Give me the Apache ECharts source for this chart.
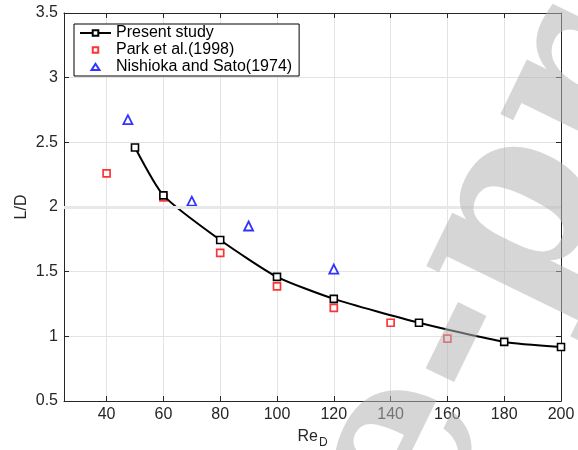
<!DOCTYPE html>
<html><head><meta charset="utf-8">
<script src="https://cdn.jsdelivr.net/npm/echarts@6/dist/echarts.min.js"></script>
<style>html,body{margin:0;padding:0;background:#fff}#c{width:578px;height:450px}</style>
</head><body><div id="c"></div>
<script>
const xTicks = [40, 60, 80, 100, 120, 140, 160, 180, 200];
const yTicks = [0.5, 1, 1.5, 2, 2.5, 3, 3.5];
const presentX = [50, 60, 80, 100, 120, 150, 180, 200];
const presentY = [2.46, 2.09, 1.745, 1.46, 1.29, 1.105, 0.957, 0.918];
const parkX = [40, 60, 80, 100, 120, 140, 160];
const parkY = [2.26, 2.075, 1.645, 1.387, 1.22, 1.105, 0.982];
const nishX = [47.5, 70, 90, 120];
const nishY = [2.675, 2.045, 1.853, 1.52];
const seriesNames = ['Present study', 'Park et al.(1998)', 'Nishioka and Sato(1974)'];

const pair = (xs, ys) => xs.map((x, i) => [x, ys[i]]);
const FONT = 'Liberation Sans';
const chart = echarts.init(document.getElementById('c'));
const axisCol = '#262626';
const sqIcon = 'path://M0,0 M31,7 M12.75,0.75 h5.5 v5.5 h-5.5 Z';
const triIcon = 'path://M0,0 M31,7 M11.5,6.6 L19.5,6.6 L15.5,0.3 Z';
chart.setOption({
  animation: false,
  backgroundColor: '#fff',
  textStyle: {fontFamily: FONT},
  graphic: [{
    type: 'text', x: 369, y: 525, z: 100, silent: true, rotation: 64 * Math.PI / 180,
    style: {text: 'e-proof', fontFamily: 'DejaVu Serif', fontWeight: 'bold', fontSize: 240, fill: 'rgba(180,180,180,0.55)', align: 'left', verticalAlign: 'middle'}
  }],
  grid: {left: 64, right: 17, top: 13, bottom: 49, containLabel: false, outerBoundsMode: 'none'},
  legend: {
    orient: 'vertical', left: 74, top: 24, padding: [1, 7, 1, 5], itemGap: 1,
    itemWidth: 31, itemHeight: 7,
    borderColor: '#000', borderWidth: 1, backgroundColor: '#fff', borderRadius: 0,
    textStyle: {fontFamily: FONT, fontSize: 16, color: '#000'},
    data: [
      {name: seriesNames[0]},
      {name: seriesNames[1], icon: sqIcon},
      {name: seriesNames[2], icon: triIcon}
    ]
  },
  xAxis: [{
    type: 'value', min: 25, max: 200,
    name: '{a|Re}{b|D}', nameLocation: 'middle', nameGap: 24,
    nameTextStyle: {rich: {a: {fontSize: 16, color: axisCol, fontFamily: FONT}, b: {fontSize: 12, color: axisCol, fontFamily: FONT, padding: [12, 0, 0, 1]}}},
    axisLine: {show: true, onZero: false, lineStyle: {color: axisCol, width: 1}},
    axisTick: {show: true, inside: true, length: 5, customValues: xTicks, lineStyle: {color: axisCol}},
    axisLabel: {customValues: xTicks, fontSize: 16, color: axisCol, margin: 6, fontFamily: FONT},
    splitLine: {show: true, lineStyle: {color: '#e3e3e3', width: 1}}
  }, {
    type: 'value', min: 25, max: 200, position: 'top',
    axisLine: {show: true, onZero: false, lineStyle: {color: axisCol, width: 1}},
    axisTick: {show: true, inside: true, length: 5, customValues: xTicks, lineStyle: {color: axisCol}},
    axisLabel: {show: false}, splitLine: {show: false}
  }],
  yAxis: [{
    type: 'value', min: 0.5, max: 3.5, interval: 0.5,
    name: 'L/D', nameLocation: 'middle', nameGap: 34, nameMoveOverlap: false,
    nameTextStyle: {fontSize: 16, color: axisCol, fontFamily: FONT},
    axisLine: {show: true, onZero: false, lineStyle: {color: axisCol, width: 1}},
    axisTick: {show: true, inside: true, length: 5, lineStyle: {color: axisCol}},
    axisLabel: {fontSize: 16, color: axisCol, margin: 6, fontFamily: FONT},
    splitLine: {show: true, lineStyle: {color: '#e3e3e3', width: 1}}
  }, {
    type: 'value', min: 0.5, max: 3.5, interval: 0.5, position: 'right',
    axisLine: {show: true, onZero: false, lineStyle: {color: axisCol, width: 1}},
    axisTick: {show: true, inside: true, length: 5, lineStyle: {color: axisCol}},
    axisLabel: {show: false}, splitLine: {show: false}
  }],
  series: [{
    name: seriesNames[0], type: 'line', data: pair(presentX, presentY),
    smooth: 0.2, symbol: 'rect', symbolSize: 7,
    lineStyle: {color: '#000', width: 2},
    itemStyle: {color: '#fff', borderColor: '#000', borderWidth: 1.6},
    markLine: {silent: true, symbol: 'none', label: {show: false}, animation: false,
      lineStyle: {color: '#e8e8e8', width: 3, type: 'solid'},
      data: [{yAxis: 2}]},
    z: 3
  }, {
    name: seriesNames[1], type: 'scatter', data: pair(parkX, parkY),
    symbol: 'rect', symbolSize: 7,
    itemStyle: {color: '#fff', borderColor: '#ff0000', borderWidth: 1.7}, z: 2
  }, {
    name: seriesNames[2], type: 'scatter', data: pair(nishX, nishY),
    symbol: 'triangle', symbolSize: 9,
    itemStyle: {color: '#fff', borderColor: '#0000ff', borderWidth: 1.8}, z: 2
  }]
});
</script></body></html>
